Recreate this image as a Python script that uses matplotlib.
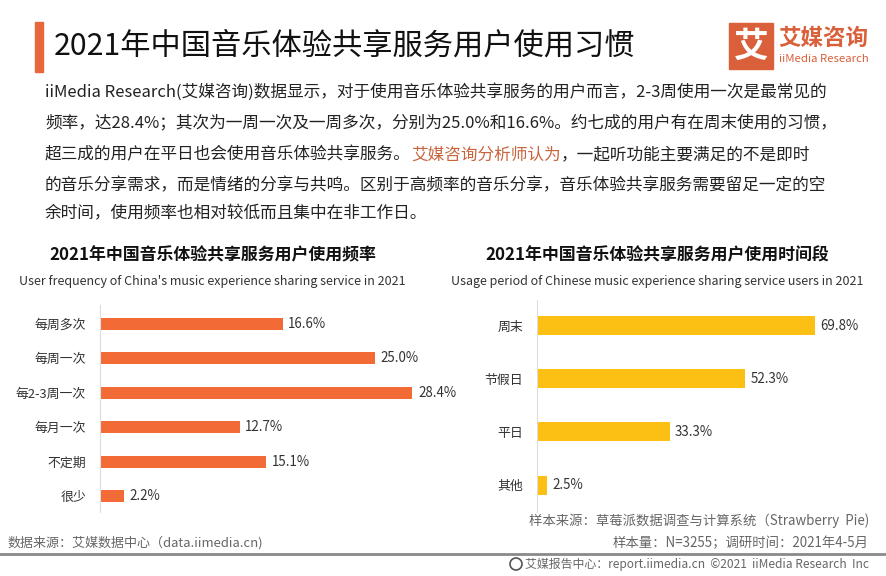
"""iiMedia: 2021 China music experience sharing service usage habits."""

import matplotlib

matplotlib.use("Agg")
import matplotlib.pyplot as plt
from matplotlib.patches import Ellipse, Rectangle

plt.rcParams["font.family"] = ["Noto Sans CJK SC", "DejaVu Sans"]

W, H = 886, 576

freq_labels = ["每周多次", "每周一次", "每2-3周一次", "每月一次", "不定期", "很少"]
freq_values = [16.6, 25.0, 28.4, 12.7, 15.1, 2.2]

period_labels = ["周末", "节假日", "平日", "其他"]
period_values = [69.8, 52.3, 33.3, 2.5]

title = "2021年中国音乐体验共享服务用户使用习惯"
left_title = "2021年中国音乐体验共享服务用户使用频率"
left_sub = "User frequency of China's music experience sharing service in 2021"
right_title = "2021年中国音乐体验共享服务用户使用时间段"
right_sub = "Usage period of Chinese music experience sharing service users in 2021"

para = [
    ["iiMedia Research(艾媒咨询)数据显示，对于使用音乐体验共享服务的用户而言，2-3周使用一次是最常见的"],
    ["频率，达28.4%；其次为一周一次及一周多次，分别为25.0%和16.6%。约七成的用户有在周末使用的习惯，"],
    ["超三成的用户在平日也会使用音乐体验共享服务。", "艾媒咨询分析师认为", "，一起听功能主要满足的不是即时"],
    ["的音乐分享需求，而是情绪的分享与共鸣。区别于高频率的音乐分享，音乐体验共享服务需要留足一定的空"],
    ["余时间，使用频率也相对较低而且集中在非工作日。"],
]

ORANGE = "#F26A35"
YELLOW = "#FCBF13"
BRAND = "#D9603B"
TEXT = "#222222"
GRAY = "#666666"


def fx(x):
    return x / W


def fy(y):
    return 1 - y / H


fig = plt.figure(figsize=(W / 100, H / 100), dpi=100)
fig.patch.set_facecolor("white")

# header
fig.patches.append(Rectangle((fx(35), fy(72)), fx(8), 50 / H, transform=fig.transFigure,
                             color="#E8683D", zorder=3))
fig.text(fx(54), fy(47), title, fontsize=21.8, color="#111111", va="center", ha="left",
         fontweight="medium")

# logo
fig.patches.append(Rectangle((fx(729), fy(69)), fx(44), 46 / H, transform=fig.transFigure,
                             color=BRAND, zorder=3))
fig.text(fx(751), fy(46), "艾", fontsize=25, color="white", ha="center", va="center",
         fontweight="bold", zorder=4)
fig.text(fx(778), fy(38), "艾媒咨询", fontsize=16.2, color=BRAND, ha="left", va="center",
         fontweight="bold")
fig.text(fx(779), fy(59), "iiMedia Research", fontsize=8.2, color=BRAND, ha="left",
         va="center")

# paragraph
fig.canvas.draw()
renderer = fig.canvas.get_renderer()
line_y = [92, 123, 155, 186, 214]
for parts, y in zip(para, line_y):
    x = 45
    for i, part in enumerate(parts):
        color = "#C8643C" if (len(parts) == 3 and i == 1) else TEXT
        t = fig.text(fx(x), fy(y), part, fontsize=12.0, color=color, ha="left", va="center")
        x += t.get_window_extent(renderer).width

# chart titles
fig.text(fx(213), fy(255), left_title, fontsize=12.2, fontweight="bold", color="#111111",
         ha="center", va="center")
fig.text(fx(212), fy(281), left_sub, fontsize=9.0, color="#333333", ha="center", va="center")
fig.text(fx(657), fy(255), right_title, fontsize=12.2, fontweight="bold", color="#111111",
         ha="center", va="center")
fig.text(fx(657), fy(281), right_sub, fontsize=9.0, color="#333333", ha="center", va="center")


def bar_panel(x0, x1, y0, y1, labels, values, color, scale, first_c, step, bar_h):
    ax = fig.add_axes([fx(x0), fy(y1), (x1 - x0) / W, (y1 - y0) / H])
    n = len(values)
    pos = list(range(n))
    ax.barh(pos, values, height=bar_h / step, color=color)
    ax.set_xlim(0, (x1 - x0) / scale)
    top = -(first_c - y0) / step
    bottom = (y1 - first_c) / step
    ax.set_ylim(bottom, top)
    for p, v in zip(pos, values):
        ax.annotate(f"{v:.1f}%", (v, p), xytext=(4, 0), textcoords="offset points",
                    ha="left", va="center", fontsize=9.6, color="#333333", annotation_clip=False)
    ax.set_yticks(pos)
    ax.set_yticklabels(labels, fontsize=9.3, color="#333333")
    ax.tick_params(axis="y", length=0, pad=10)
    ax.set_xticks([])
    for s in ["top", "right", "bottom"]:
        ax.spines[s].set_visible(False)
    ax.spines["left"].set_color("#dddddd")
    ax.spines["left"].set_linewidth(0.8)
    ax.patch.set_alpha(0)
    return ax


bar_panel(100, 430, 305, 512, freq_labels, freq_values, ORANGE, 11.0, 324, 34.4, 12)
bar_panel(537, 860, 300, 512, period_labels, period_values, YELLOW, 3.98, 326, 53, 19)

# footer
fig.text(fx(869), fy(521), "样本来源：草莓派数据调查与计算系统（Strawberry  Pie)", fontsize=9.6,
         color=GRAY, ha="right", va="center")
fig.text(fx(8), fy(543), "数据来源：艾媒数据中心（data.iimedia.cn)", fontsize=9.4, color=GRAY,
         ha="left", va="center")
fig.text(fx(869), fy(543), "样本量：N=3255；调研时间：2021年4-5月", fontsize=9.6, color=GRAY,
         ha="right", va="center")
fig.lines.append(plt.Line2D([0, 1], [fy(554), fy(554)], transform=fig.transFigure,
                            color="#8a8a8a", linewidth=2))
foot = fig.text(fx(869), fy(564), "艾媒报告中心：report.iimedia.cn  ©2021  iiMedia Research  Inc",
                fontsize=8.6, color=GRAY, ha="right", va="center")
foot_w = foot.get_window_extent(renderer).width
fig.patches.append(Ellipse((fx(869 - foot_w - 9), fy(564)), 12 / W, 12 / H,
                           transform=fig.transFigure, facecolor="white",
                           edgecolor="#555555", linewidth=1.2))

fig.savefig("out.png", dpi=100, facecolor="white")
